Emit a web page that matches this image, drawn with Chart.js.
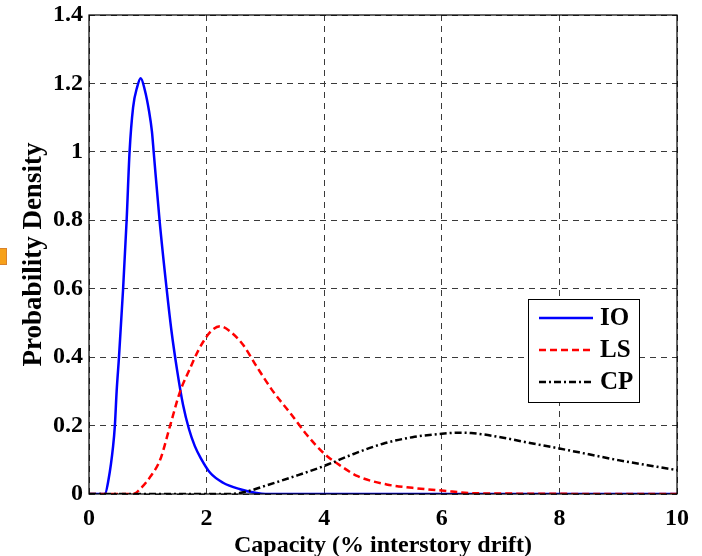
<!DOCTYPE html>
<html>
<head>
<meta charset="utf-8">
<script src="https://cdn.jsdelivr.net/npm/chart.js@4/dist/chart.umd.min.js"></script>
<style>
  body { margin: 0; background: #fff; }
  #wrap { position: relative; width: 702px; height: 556px; }
  #marker { position: absolute; left: 0; top: 248px; width: 6px; height: 15px;
            background: #f7a11a; border: 1px solid #d9822b; border-left: none; }
</style>
</head>
<body>
<div id="wrap">
  <canvas id="myChart" width="702" height="556"></canvas>
  <div id="marker"></div>
</div>
<script>
// Capacidad (% deriva de entrepiso) y densidad de probabilidad de cada estado
const xIO = [0, 0.27, 0.33, 0.41, 0.44, 0.47, 0.51, 0.58, 0.64, 0.69, 0.75, 0.82, 0.88, 0.95, 1.02, 1.07, 1.1, 1.2, 1.32, 1.4, 1.5, 1.6, 1.7, 1.8, 1.9, 2.06, 2.28, 2.57, 2.85, 3.0, 10];
const yIO = [0, 0, 0.04, 0.14, 0.2, 0.3, 0.4, 0.6, 0.8, 1.0, 1.13, 1.19, 1.215, 1.18, 1.12, 1.06, 1.0, 0.8, 0.6, 0.48, 0.36, 0.26, 0.19, 0.14, 0.105, 0.062, 0.033, 0.014, 0.003, 0, 0];

const xLS = [0, 0.75, 0.9, 1.04, 1.21, 1.38, 1.55, 1.7, 1.86, 2.0, 2.1, 2.23, 2.4, 2.62, 2.85, 3.13, 3.42, 3.7, 4.0, 4.3, 4.57, 5.06, 5.5, 6.0, 6.6, 10];
const yLS = [0, 0, 0.02, 0.05, 0.1, 0.2, 0.3, 0.36, 0.42, 0.46, 0.48, 0.49, 0.475, 0.436, 0.373, 0.3, 0.237, 0.174, 0.118, 0.08, 0.052, 0.028, 0.018, 0.01, 0.002, 0];

const xCP = [0, 2.4, 2.7, 3.0, 3.5, 4.0, 4.5, 5.0, 5.5, 6.0, 6.25, 6.5, 7.0, 7.5, 8.0, 8.5, 9.0, 9.5, 10];
const yCP = [0, 0, 0.008, 0.024, 0.052, 0.082, 0.117, 0.147, 0.166, 0.176, 0.179, 0.178, 0.166, 0.149, 0.133, 0.116, 0.099, 0.084, 0.07];

const xTicks = [0, 2, 4, 6, 8, 10];
const yTicks = [0, 0.2, 0.4, 0.6, 0.8, 1, 1.2, 1.4];

const font = 'Liberation Serif, Times New Roman, serif';

function pts(xs, ys) {
  return xs.map((x, i) => ({ x: x, y: ys[i] }));
}

// caja alrededor del area de trazado
const frame = {
  id: 'frame',
  afterDatasetsDraw(chart) {
    const a = chart.chartArea;
    const c = chart.ctx;
    c.save();
    c.strokeStyle = '#000';
    c.lineWidth = 1.2;
    c.strokeRect(a.left, a.top, a.right - a.left, a.bottom - a.top);
    c.restore();
  }
};

// leyenda dentro del grafico, como en MATLAB
const boxLegend = {
  id: 'boxLegend',
  afterDraw(chart) {
    const c = chart.ctx;
    const x0 = 528, y0 = 299, w = 111, h = 103;
    c.save();
    c.fillStyle = '#fff';
    c.fillRect(x0, y0, w, h);
    c.strokeStyle = '#000';
    c.lineWidth = 1;
    c.strokeRect(x0 + 0.5, y0 + 0.5, w, h);
    const rows = [318, 350, 382];
    chart.data.datasets.forEach((ds, i) => {
      const y = rows[i];
      c.strokeStyle = ds.borderColor;
      c.lineWidth = ds.borderWidth;
      c.setLineDash(ds.borderDash || []);
      c.beginPath();
      c.moveTo(539, y);
      c.lineTo(593, y);
      c.stroke();
      c.setLineDash([]);
      c.fillStyle = '#000';
      c.font = 'bold 25px ' + font;
      c.textBaseline = 'middle';
      c.textAlign = 'left';
      c.fillText(ds.label, 600, y + 1);
    });
    c.restore();
  }
};

const ctx = document.getElementById('myChart').getContext('2d');
new Chart(ctx, {
  type: 'line',
  data: {
    datasets: [
      { label: 'IO', data: pts(xIO, yIO), borderColor: '#0000ff', borderWidth: 2.5, order: 3 },
      { label: 'LS', data: pts(xLS, yLS), borderColor: '#ff0000', borderWidth: 2.5, borderDash: [7, 4], order: 2 },
      { label: 'CP', data: pts(xCP, yCP), borderColor: '#000000', borderWidth: 2.5, borderDash: [7, 3, 2, 3], order: 1 }
    ]
  },
  options: {
    responsive: false,
    animation: false,
    layout: { padding: { top: 15, right: 25, left: 0, bottom: 0 } },
    elements: {
      point: { radius: 0 },
      line: { cubicInterpolationMode: 'monotone', fill: false }
    },
    plugins: {
      legend: { display: false },
      tooltip: { enabled: false }
    },
    scales: {
      x: {
        type: 'linear',
        min: 0,
        max: 10,
        afterBuildTicks(scale) { scale.ticks = xTicks.map(v => ({ value: v })); },
        afterFit(scale) { scale.height = 62; },
        ticks: {
          color: '#000',
          padding: 10,
          font: { family: font, size: 24, weight: 'bold' },
          callback: v => String(v)
        },
        grid: { color: '#3a3a3a', lineWidth: 1, drawTicks: false },
        border: { display: false, dash: [6, 5] },
        title: {
          display: true,
          text: 'Capacity (% interstory drift)',
          color: '#000',
          padding: { top: 0, bottom: -4 },
          font: { family: font, size: 24, weight: 'bold' }
        }
      },
      y: {
        min: 0,
        max: 1.4,
        afterBuildTicks(scale) { scale.ticks = yTicks.map(v => ({ value: v })); },
        afterFit(scale) {
          scale.width = 89;
          // el margen superior lo fija layout.padding
          scale.paddingTop = 0;
          scale.paddingBottom = 0;
        },
        ticks: {
          color: '#000',
          padding: 6,
          font: { family: font, size: 24, weight: 'bold' },
          callback: v => String(Math.round(v * 10) / 10)
        },
        grid: { color: '#3a3a3a', lineWidth: 1, drawTicks: false },
        border: { display: false, dash: [6, 5] },
        title: {
          display: true,
          text: 'Probability Density',
          color: '#000',
          padding: { top: 18, bottom: 0 },
          font: { family: font, size: 27, weight: 'bold' }
        }
      }
    }
  },
  plugins: [frame, boxLegend]
});
</script>
</body>
</html>
